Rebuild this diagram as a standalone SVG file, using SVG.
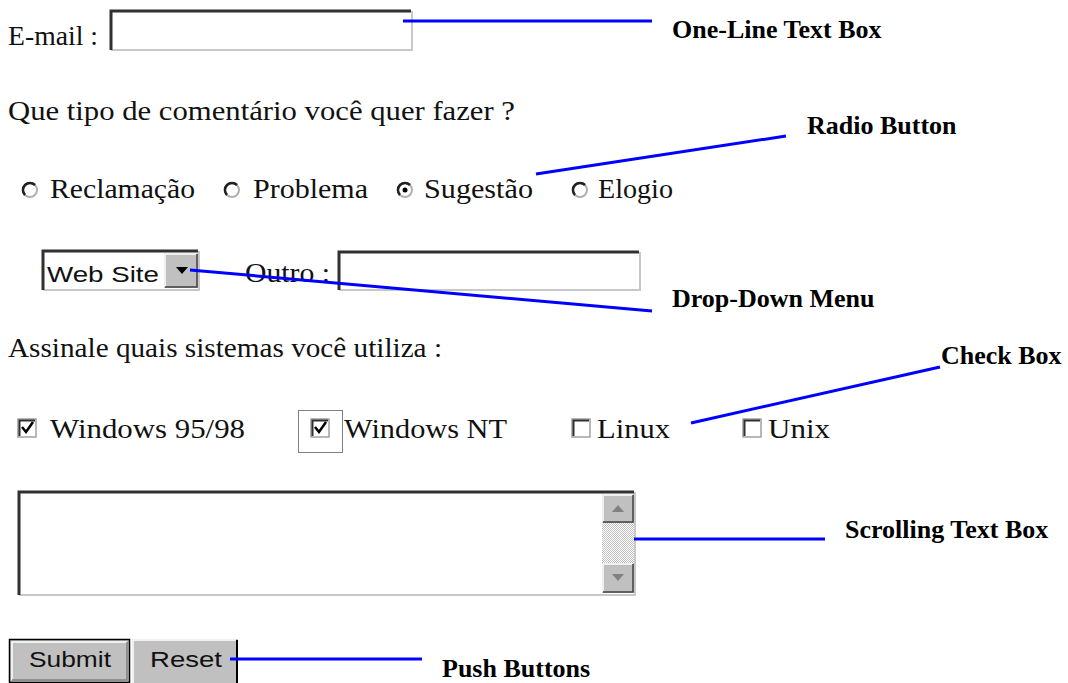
<svg xmlns="http://www.w3.org/2000/svg" width="1068" height="683" viewBox="0 0 1068 683">
<defs>
<pattern id="dither" width="2" height="2" patternUnits="userSpaceOnUse">
<rect width="2" height="2" fill="#ffffff"/>
<rect width="1" height="1" fill="#c0c0c0"/>
<rect x="1" y="1" width="1" height="1" fill="#c0c0c0"/>
</pattern>
</defs>
<style>
.t{font-family:"Liberation Serif","Times New Roman",serif;font-size:27px;fill:#111}
.s{font-family:"Liberation Sans",Arial,sans-serif;font-size:22px;fill:#111}
.lbl{font-family:"Liberation Serif","Times New Roman",serif;font-size:26px;font-weight:bold;fill:#000}
.field{fill:#fff}
.dk{fill:none;stroke:#303030;stroke-width:3}
.lt{fill:none;stroke:#c8c8c8;stroke-width:2}
.btn{fill:#c0c0c0}
.conn{stroke:#0000ff;stroke-width:3;fill:none}
.radio{fill:#fff;stroke:#b0b0b0;stroke-width:2}
.radk{fill:none;stroke:#202020;stroke-width:2.5}
.cb{fill:#fff;stroke:#a0a0a0;stroke-width:1.5}
.cbk{fill:none;stroke:#303030;stroke-width:2}
</style>
<rect width="1068" height="683" fill="#fff"/>

<g id="email">
<text class="t" x="8" y="45" textLength="90" lengthAdjust="spacingAndGlyphs">E-mail :</text>
<rect class="field" x="110" y="10" width="302" height="40"/>
<path class="lt" d="M111,50 H412 V11"/>
<path class="dk" d="M111,50 V11 H411"/>
</g>

<g id="question">
<text class="t" x="8" y="120" textLength="507" lengthAdjust="spacingAndGlyphs">Que tipo de comentário você quer fazer ?</text>
</g>

<g id="radios">
<circle class="radio" cx="30" cy="190" r="7"/>
<path class="radk" d="M25,195 A7,7 0 0 1 35,185"/>
<text class="t" x="50" y="198" textLength="145" lengthAdjust="spacingAndGlyphs">Reclamação</text>
<circle class="radio" cx="232" cy="190" r="7"/>
<path class="radk" d="M227,195 A7,7 0 0 1 237,185"/>
<text class="t" x="253" y="198" textLength="115" lengthAdjust="spacingAndGlyphs">Problema</text>
<circle class="radio" cx="405" cy="190" r="7"/>
<path class="radk" d="M400,195 A7,7 0 0 1 410,185"/>
<circle cx="405" cy="190" r="2.5" fill="#000"/>
<text class="t" x="424" y="198" textLength="109" lengthAdjust="spacingAndGlyphs">Sugestão</text>
<circle class="radio" cx="580" cy="190" r="7"/>
<path class="radk" d="M575,195 A7,7 0 0 1 585,185"/>
<text class="t" x="598" y="198" textLength="75" lengthAdjust="spacingAndGlyphs">Elogio</text>
</g>

<g id="dropdown">
<rect class="field" x="42" y="250" width="157" height="40"/>
<path class="lt" d="M43,290 H199 V251"/>
<path class="dk" d="M43,290 V251 H198"/>
<text class="s" x="47" y="282" textLength="112" lengthAdjust="spacingAndGlyphs">Web Site</text>
<rect class="btn" x="164" y="253" width="34" height="35"/>
<path d="M165,287 V254 H197" fill="none" stroke="#fff" stroke-width="1.5"/>
<path d="M165,287 H197 V254" fill="none" stroke="#404040" stroke-width="1.5"/>
<path d="M176,267 H188 L182,274 Z" fill="#000"/>
</g>

<g id="outro">
<text class="t" x="245" y="282" textLength="85" lengthAdjust="spacingAndGlyphs">Outro :</text>
<rect class="field" x="338" y="251" width="302" height="39"/>
<path class="lt" d="M339,290 H640 V252"/>
<path class="dk" d="M339,290 V252 H639"/>
</g>

<g id="assinale">
<text class="t" x="8" y="357" textLength="434" lengthAdjust="spacingAndGlyphs">Assinale quais sistemas você utiliza :</text>
</g>

<g id="checkboxes">
<rect class="cb" x="18" y="419" width="18" height="18"/>
<path class="cbk" d="M19.5,436 V420.5 H35"/>
<path d="M22,427 L26,432 L33,422" fill="none" stroke="#000" stroke-width="2.5"/>
<text class="t" x="50" y="438" textLength="195" lengthAdjust="spacingAndGlyphs">Windows 95/98</text>
<rect x="298.5" y="410.5" width="44" height="42" fill="none" stroke="#000" stroke-width="1" stroke-dasharray="1,1"/>
<rect class="cb" x="311" y="419" width="18" height="18"/>
<path class="cbk" d="M312.5,436 V420.5 H328"/>
<path d="M315,427 L319,432 L326,422" fill="none" stroke="#000" stroke-width="2.5"/>
<text class="t" x="344" y="438" textLength="163" lengthAdjust="spacingAndGlyphs">Windows NT</text>
<rect class="cb" x="572" y="419" width="18" height="18"/>
<path class="cbk" d="M573.5,436 V420.5 H589"/>
<text class="t" x="597" y="438" textLength="73" lengthAdjust="spacingAndGlyphs">Linux</text>
<rect class="cb" x="743" y="419" width="18" height="18"/>
<path class="cbk" d="M744.5,436 V420.5 H760"/>
<text class="t" x="768" y="438" textLength="62" lengthAdjust="spacingAndGlyphs">Unix</text>
</g>

<g id="textarea">
<rect class="field" x="18" y="491" width="617" height="104"/>
<path class="lt" d="M19,595 H635 V492"/>
<path class="dk" d="M19,595 V492 H634"/>
<rect x="602" y="523" width="32" height="40" fill="url(#dither)"/>
<rect class="btn" x="602" y="494" width="32" height="29"/>
<path d="M603,522 V495 H633" fill="none" stroke="#fff" stroke-width="1.5"/>
<path d="M603,522 H633 V495" fill="none" stroke="#404040" stroke-width="1.5"/>
<path d="M612,512 L618,505 L624,512 Z" fill="#808080"/>
<rect class="btn" x="602" y="563" width="32" height="30"/>
<path d="M603,592 V564 H633" fill="none" stroke="#fff" stroke-width="1.5"/>
<path d="M603,592 H633 V564" fill="none" stroke="#404040" stroke-width="1.5"/>
<path d="M612,574 H624 L618,581 Z" fill="#808080"/>
</g>

<g id="buttons">
<rect class="btn" x="9" y="639" width="121" height="43"/>
<rect x="9.5" y="639.5" width="120" height="43" fill="none" stroke="#000" stroke-width="1.5"/>
<path d="M12,680 V642 H127" fill="none" stroke="#fff" stroke-width="1.5"/>
<path d="M12,680 H127 V642" fill="none" stroke="#808080" stroke-width="1.5"/>
<text class="s" x="29" y="667" textLength="82" lengthAdjust="spacingAndGlyphs">Submit</text>
<rect class="btn" x="132" y="639" width="106" height="44"/>
<path d="M133,683 V640 H236" fill="none" stroke="#fff" stroke-width="1.5"/>
<path d="M237,640 V683" fill="none" stroke="#000" stroke-width="2"/>
<text class="s" x="150" y="667" textLength="72" lengthAdjust="spacingAndGlyphs">Reset</text>
</g>

<g id="connectors">
<line class="conn" x1="403" y1="21" x2="652" y2="21"/>
<line class="conn" x1="536" y1="174" x2="786" y2="136"/>
<line class="conn" x1="190" y1="270" x2="652" y2="311"/>
<line class="conn" x1="691" y1="423" x2="940" y2="367"/>
<line class="conn" x1="634" y1="539" x2="825" y2="539"/>
<line class="conn" x1="230" y1="659" x2="422" y2="659"/>
</g>

<g id="label-oneline"><text class="lbl" x="672" y="38">One-Line Text Box</text></g>
<g id="label-radio"><text class="lbl" x="807" y="134">Radio Button</text></g>
<g id="label-dropdown"><text class="lbl" x="672" y="307">Drop-Down Menu</text></g>
<g id="label-checkbox"><text class="lbl" x="941" y="364">Check Box</text></g>
<g id="label-scrolling"><text class="lbl" x="845" y="538">Scrolling Text Box</text></g>
<g id="label-push"><text class="lbl" x="442" y="677">Push Buttons</text></g>
</svg>
